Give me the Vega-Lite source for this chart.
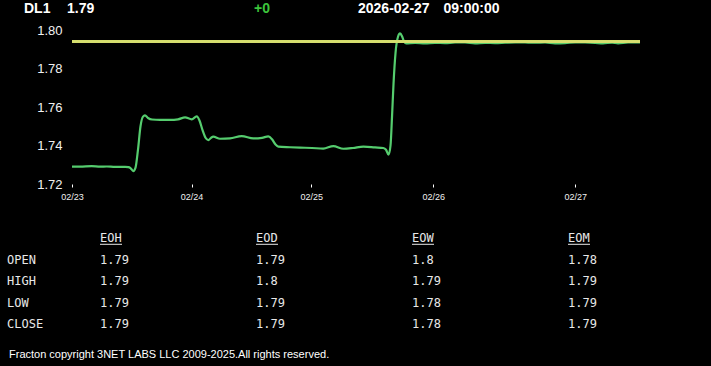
{
  "$schema": "https://vega.github.io/schema/vega-lite/v6.json",
  "width": 568,
  "height": 154,
  "autosize": {"type": "none"},
  "padding": {"left": 72, "top": 30, "right": 71, "bottom": 182},
  "background": "#000000",
  "config": {"view": {"stroke": null}, "axis": {"labelOverlap": false, "labelBound": false}},
  "datasets": {
    "series": [
      {"h": 0.00, "p": 1.7290}, {"h": 1.61, "p": 1.7290}, {"h": 3.95, "p": 1.7293}, {"h": 5.62, "p": 1.7290},
      {"h": 6.97, "p": 1.7291}, {"h": 8.63, "p": 1.7289}, {"h": 10.64, "p": 1.7289}, {"h": 11.30, "p": 1.7288},
      {"h": 11.74, "p": 1.7283}, {"h": 12.30, "p": 1.7267}, {"h": 12.75, "p": 1.7285}, {"h": 13.25, "p": 1.7380},
      {"h": 13.75, "p": 1.7500}, {"h": 14.25, "p": 1.7550}, {"h": 14.65, "p": 1.7556}, {"h": 15.25, "p": 1.7543},
      {"h": 16.06, "p": 1.7535}, {"h": 17.66, "p": 1.7533}, {"h": 19.67, "p": 1.7533}, {"h": 21.28, "p": 1.7536},
      {"h": 22.69, "p": 1.7546}, {"h": 24.03, "p": 1.7536}, {"h": 25.03, "p": 1.7551}, {"h": 25.59, "p": 1.7530},
      {"h": 26.20, "p": 1.7480}, {"h": 26.80, "p": 1.7440}, {"h": 27.36, "p": 1.7428}, {"h": 27.90, "p": 1.7440},
      {"h": 28.36, "p": 1.7446}, {"h": 29.70, "p": 1.7435}, {"h": 31.71, "p": 1.7437}, {"h": 34.06, "p": 1.7449},
      {"h": 36.39, "p": 1.7437}, {"h": 38.14, "p": 1.7440}, {"h": 39.40, "p": 1.7447}, {"h": 40.15, "p": 1.7432},
      {"h": 40.85, "p": 1.7405}, {"h": 41.41, "p": 1.7394}, {"h": 43.76, "p": 1.7391}, {"h": 45.76, "p": 1.7389},
      {"h": 48.17, "p": 1.7387}, {"h": 50.44, "p": 1.7384}, {"h": 52.45, "p": 1.7397}, {"h": 54.46, "p": 1.7383},
      {"h": 56.40, "p": 1.7387}, {"h": 58.47, "p": 1.7394}, {"h": 60.82, "p": 1.7390}, {"h": 62.48, "p": 1.7387},
      {"h": 63.03, "p": 1.7378}, {"h": 63.53, "p": 1.7352}, {"h": 63.93, "p": 1.7400}, {"h": 64.23, "p": 1.7550},
      {"h": 64.53, "p": 1.7720}, {"h": 64.93, "p": 1.7880}, {"h": 65.43, "p": 1.7965}, {"h": 65.84, "p": 1.7982},
      {"h": 66.24, "p": 1.7968}, {"h": 66.64, "p": 1.7940}, {"h": 67.04, "p": 1.7931}, {"h": 68.85, "p": 1.7933},
      {"h": 70.86, "p": 1.7931}, {"h": 72.86, "p": 1.7933}, {"h": 74.87, "p": 1.7932}, {"h": 76.88, "p": 1.7935},
      {"h": 78.88, "p": 1.7935}, {"h": 80.89, "p": 1.7931}, {"h": 82.90, "p": 1.7933}, {"h": 84.91, "p": 1.7932},
      {"h": 86.91, "p": 1.7934}, {"h": 88.92, "p": 1.7936}, {"h": 90.93, "p": 1.7935}, {"h": 92.94, "p": 1.7934},
      {"h": 94.94, "p": 1.7935}, {"h": 96.95, "p": 1.7931}, {"h": 98.96, "p": 1.7932}, {"h": 100.96, "p": 1.7936},
      {"h": 102.97, "p": 1.7935}, {"h": 104.98, "p": 1.7933}, {"h": 106.58, "p": 1.7931}, {"h": 108.39, "p": 1.7934},
      {"h": 109.59, "p": 1.7931}, {"h": 111.60, "p": 1.7935}, {"h": 114.00, "p": 1.7935}
    ],
    "banner": [
      {"slot": 0, "line": 0, "text": "DL1", "tone": "info"},
      {"slot": 1, "line": 0, "text": "1.79", "tone": "info"},
      {"slot": 2, "line": 0, "text": "+0", "tone": "change"},
      {"slot": 3, "line": 0, "text": "2026-02-27", "tone": "info"},
      {"slot": 4, "line": 0, "text": "09:00:00", "tone": "info"},
      {"slot": -1, "line": 1, "text": "Fracton copyright 3NET LABS LLC 2009-2025.All rights reserved.", "tone": "info"}
    ],
    "table": [
      {"col": 1, "row": 0, "text": "EOH"}, {"col": 2, "row": 0, "text": "EOD"}, {"col": 3, "row": 0, "text": "EOW"}, {"col": 4, "row": 0, "text": "EOM"},
      {"col": 0, "row": 1, "text": "OPEN"}, {"col": 1, "row": 1, "text": "1.79"}, {"col": 2, "row": 1, "text": "1.79"}, {"col": 3, "row": 1, "text": "1.8"}, {"col": 4, "row": 1, "text": "1.78"},
      {"col": 0, "row": 2, "text": "HIGH"}, {"col": 1, "row": 2, "text": "1.79"}, {"col": 2, "row": 2, "text": "1.8"}, {"col": 3, "row": 2, "text": "1.79"}, {"col": 4, "row": 2, "text": "1.79"},
      {"col": 0, "row": 3, "text": "LOW"}, {"col": 1, "row": 3, "text": "1.79"}, {"col": 2, "row": 3, "text": "1.79"}, {"col": 3, "row": 3, "text": "1.78"}, {"col": 4, "row": 3, "text": "1.79"},
      {"col": 0, "row": 4, "text": "CLOSE"}, {"col": 1, "row": 4, "text": "1.79"}, {"col": 2, "row": 4, "text": "1.79"}, {"col": 3, "row": 4, "text": "1.78"}, {"col": 4, "row": 4, "text": "1.79"}
    ]
  },
  "layer": [
    {
      "data": {"name": "series"},
      "layer": [
        {
          "mark": {"type": "line", "color": "#55cc6e", "strokeWidth": 2.2, "interpolate": "monotone"},
          "encoding": {
            "x": {
              "field": "h", "type": "quantitative",
              "scale": {"domain": [0, 114], "nice": false, "zero": false},
              "axis": {
                "values": [0, 24, 48, 72.5, 101],
                "labelExpr": "datum.value == 0 ? '02/23' : datum.value == 24 ? '02/24' : datum.value == 48 ? '02/25' : datum.value == 72.5 ? '02/26' : '02/27'",
                "domain": false, "grid": false, "title": null,
                "ticks": true, "tickColor": "#ffffff", "tickSize": 3, "tickWidth": 1,
                "labelColor": "#f0f0f0", "labelFont": "Liberation Sans", "labelFontSize": 9,
                "labelPadding": 5, "labelFlush": false, "labelOverlap": false
              }
            },
            "y": {
              "field": "p", "type": "quantitative",
              "scale": {"domain": [1.72, 1.80], "nice": false, "zero": false},
              "axis": {
                "values": [1.72, 1.74, 1.76, 1.78, 1.8],
                "labelExpr": "format(datum.value, '.2f')",
                "domain": false, "grid": false, "ticks": false, "title": null,
                "labelColor": "#f0f0f0", "labelFont": "Liberation Sans", "labelFontSize": 13,
                "labelPadding": 10, "labelOverlap": false
              }
            }
          }
        },
        {
          "mark": {"type": "rule", "color": "#d6e070", "strokeWidth": 1.6},
          "encoding": {
            "y": {
              "datum": 1.794, "type": "quantitative",
              "axis": {
                "values": [1.72, 1.74, 1.76, 1.78, 1.8],
                "labelExpr": "format(datum.value, '.2f')",
                "domain": false, "grid": false, "ticks": false, "title": null,
                "labelColor": "#f0f0f0", "labelFont": "Liberation Sans", "labelFontSize": 13,
                "labelPadding": 10, "labelOverlap": false
              }
            }
          }
        }
      ]
    },
    {
      "data": {"name": "banner"},
      "encoding": {
        "x": {"field": "slot", "type": "quantitative", "axis": null,
              "scale": {"domain": [-1, 0, 1, 2, 3, 4], "range": [-63, -48, -5, 182, 286, 371.5], "zero": false, "nice": false}},
        "y": {"field": "line", "type": "quantitative", "axis": null,
              "scale": {"domain": [0, 1], "range": [-21, 325], "zero": false, "nice": false}},
        "text": {"field": "text", "type": "nominal"},
        "color": {"field": "tone", "type": "nominal", "legend": null,
                  "scale": {"domain": ["info", "change"], "range": ["#ffffff", "#3cc43c"]}}
      },
      "layer": [
        {
          "transform": [{"filter": "datum.line == 0"}],
          "mark": {"type": "text", "align": "left", "baseline": "middle", "font": "Liberation Sans", "fontSize": 14, "fontWeight": "bold"}
        },
        {
          "transform": [{"filter": "datum.line == 1"}],
          "mark": {"type": "text", "align": "left", "baseline": "middle", "font": "Liberation Sans", "fontSize": 11}
        }
      ]
    },
    {
      "data": {"name": "table"},
      "encoding": {
        "x": {"field": "col", "type": "quantitative", "axis": null,
              "scale": {"domain": [0, 1, 4], "range": [-65, 28, 496], "zero": false, "nice": false}},
        "y": {"field": "row", "type": "quantitative", "axis": null,
              "scale": {"domain": [0, 4], "range": [208.3, 294.3], "zero": false, "nice": false}}
      },
      "layer": [
        {
          "mark": {"type": "text", "align": "left", "baseline": "middle", "font": "DejaVu Sans Mono", "fontSize": 12, "color": "#e8e8e8"},
          "encoding": {"text": {"field": "text", "type": "nominal"}}
        },
        {
          "transform": [{"filter": "datum.row == 0"}],
          "mark": {"type": "rule", "color": "#e8e8e8", "strokeWidth": 1, "x2Offset": 22, "yOffset": 6},
          "encoding": {"x2": {"field": "col"}}
        }
      ]
    }
  ],
  "resolve": {"scale": {"x": "independent", "y": "independent"}}
}
